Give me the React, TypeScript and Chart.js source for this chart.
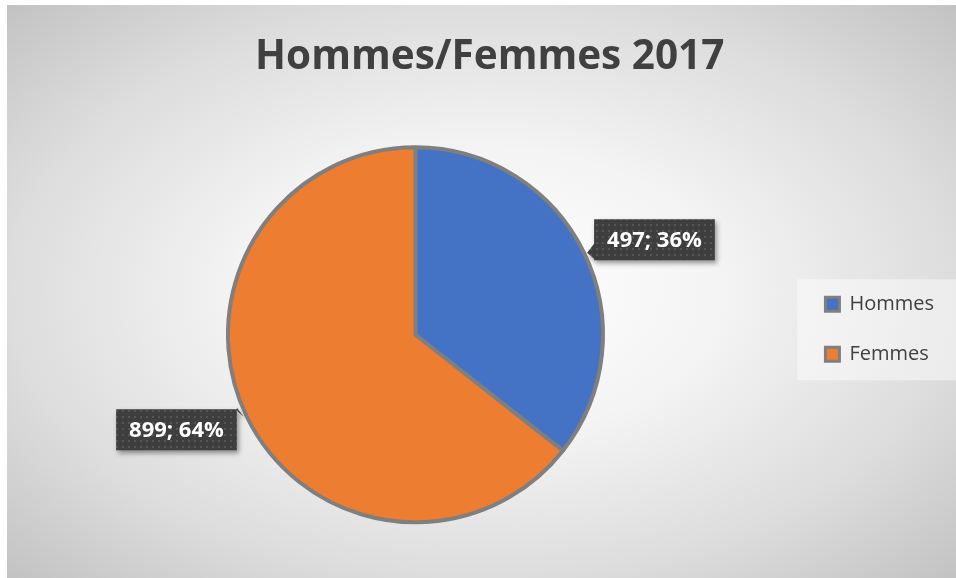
import React, { useEffect, useRef } from 'react';
import { Chart, registerables } from 'chart.js';

Chart.register(...registerables);

const titleText = 'Hommes/Femmes 2017';
const categories = ['Hommes', 'Femmes'];
const values = [497, 899];
const colors = ['#4472C4', '#ED7D31'];

function makePattern(ctx: CanvasRenderingContext2D) {
  const c = document.createElement('canvas');
  c.width = 6;
  c.height = 6;
  const p = c.getContext('2d')!;
  p.fillStyle = '#3e3e3e';
  p.fillRect(0, 0, 6, 6);
  p.fillStyle = '#555555';
  p.fillRect(2, 2, 2, 2);
  return ctx.createPattern(c, 'repeat');
}

export default function App() {
  const ref = useRef<HTMLCanvasElement>(null);

  useEffect(() => {
    document.body.style.margin = '0';
    const canvas = ref.current!;

    const bgPlugin = {
      id: 'bgPlugin',
      beforeDraw(chart: any) {
        const ctx = chart.ctx as CanvasRenderingContext2D;
        const W = chart.width;
        const H = chart.height;
        ctx.save();
        ctx.fillStyle = '#ffffff';
        ctx.fillRect(0, 0, W, H);
        const x0 = 7, y0 = 5, x1 = W, y1 = H;
        const cx = (x0 + x1) / 2, cy = (y0 + y1) / 2;
        const hw = (x1 - x0) / 2, hh = (y1 - y0) / 2;
        ctx.translate(cx, cy);
        ctx.scale(hw, hh);
        const g = ctx.createRadialGradient(0, 0, 0, 0, 0, 1.42);
        g.addColorStop(0, '#ffffff');
        g.addColorStop(0.35, '#f4f4f4');
        g.addColorStop(0.7, '#dddddd');
        g.addColorStop(1, '#c2c2c2');
        ctx.fillStyle = g;
        ctx.fillRect(-1, -1, 2, 2);
        ctx.restore();

        const l = chart.legend;
        if (l) {
          const pad = l.options.labels.padding;
          const n = categories.length;
          const itemH = l.options.labels.font.size;
          const colH = n * (itemH + pad);
          const yStart = (l.top + pad + l.bottom - colH) / 2;
          const top = yStart + itemH / 2 - 25;
          const bottom = yStart + (n - 1) * (itemH + pad) + itemH / 2 + 26;
          ctx.save();
          ctx.fillStyle = 'rgba(255,255,255,0.45)';
          ctx.fillRect(l.left + 2, top, W - l.left - 2, bottom - top);
          ctx.restore();
        }
      },
    };

    const legendShift = {
      id: 'legendShift',
      afterLayout(chart: any) {
        const l = chart.legend;
        const a = chart.chartArea;
        if (l && a) {
          l.top = a.top - 5.5;
          l.bottom = a.bottom - 5.5;
          l.height = l.bottom - l.top;
        }
      },
    };

    const labelPlugin = {
      id: 'labelPlugin',
      afterDatasetsDraw(chart: any) {
        const ctx = chart.ctx as CanvasRenderingContext2D;
        const meta = chart.getDatasetMeta(0);
        const data = chart.data.datasets[0].data as number[];
        const total = data.reduce((a, b) => a + b, 0);
        const pattern = makePattern(ctx);
        meta.data.forEach((arc: any, i: number) => {
          const { x, y, startAngle, endAngle, outerRadius } = arc.getProps(
            ['x', 'y', 'startAngle', 'endAngle', 'outerRadius'],
            true
          );
          const mid = (startAngle + endAngle) / 2;
          const ax = x + Math.cos(mid) * outerRadius;
          const ay = y + Math.sin(mid) * outerRadius;
          const text = `${data[i]}; ${Math.round((data[i] / total) * 100)}%`;
          ctx.save();
          ctx.font = 'bold 22px "Open Sans"';
          const tw = ctx.measureText(text).width;
          const w = tw + 26;
          const h = 41;
          const side = Math.cos(mid) >= 0 ? 1 : -1;
          let bx: number, by: number;
          if (side > 0) {
            bx = ax + 10;
            by = ay - 13 - h / 2;
          } else {
            bx = ax - 10 - w;
            by = ay + 13 - h / 2;
          }
          const edgeX = side > 0 ? bx : bx + w;
          ctx.beginPath();
          ctx.rect(bx, by, w, h);
          ctx.moveTo(edgeX, ay - 9);
          ctx.lineTo(ax + side * 3, ay);
          ctx.lineTo(edgeX, ay + 6 * side);
          ctx.closePath();
          ctx.shadowColor = 'rgba(0,0,0,0.4)';
          ctx.shadowBlur = 5;
          ctx.shadowOffsetX = 2;
          ctx.shadowOffsetY = 3;
          ctx.fillStyle = pattern || '#404040';
          ctx.fill();
          ctx.shadowColor = 'transparent';
          ctx.fillStyle = '#ffffff';
          ctx.textAlign = 'center';
          ctx.textBaseline = 'middle';
          ctx.fillText(text, bx + w / 2, by + h / 2 + 1);
          ctx.restore();
        });
      },
    };

    const defaultGen = (Chart as any).overrides.pie.plugins.legend.labels.generateLabels;

    const chart = new Chart(canvas, {
      type: 'pie',
      data: {
        labels: categories,
        datasets: [
          {
            data: values,
            backgroundColor: colors,
            borderColor: '#7f7f7f',
            borderWidth: 4,
          },
        ],
      },
      options: {
        animation: false,
        responsive: false,
        maintainAspectRatio: false,
        radius: 187.5,
        layout: { padding: { left: 35.5, right: 12, top: 0, bottom: 55 } },
        plugins: {
          tooltip: { enabled: false },
          title: {
            display: true,
            text: titleText,
            color: '#404040',
            font: { family: 'Open Sans', size: 40.5, weight: 'bold', lineHeight: 1.2 },
            padding: { top: 33, bottom: 65 },
          },
          legend: {
            position: 'right',
            labels: {
              boxWidth: 14,
              boxHeight: 14,
              padding: 30,
              color: '#404040',
              font: { family: 'Open Sans', size: 20 },
              generateLabels: (c: any) =>
                defaultGen(c).map((it: any) => ({ ...it, lineWidth: 3 })),
            },
          },
        },
      } as any,
      plugins: [bgPlugin, legendShift, labelPlugin],
    });

    return () => chart.destroy();
  }, []);

  return <canvas ref={ref} width={956} height={578} style={{ display: 'block' }} />;
}
